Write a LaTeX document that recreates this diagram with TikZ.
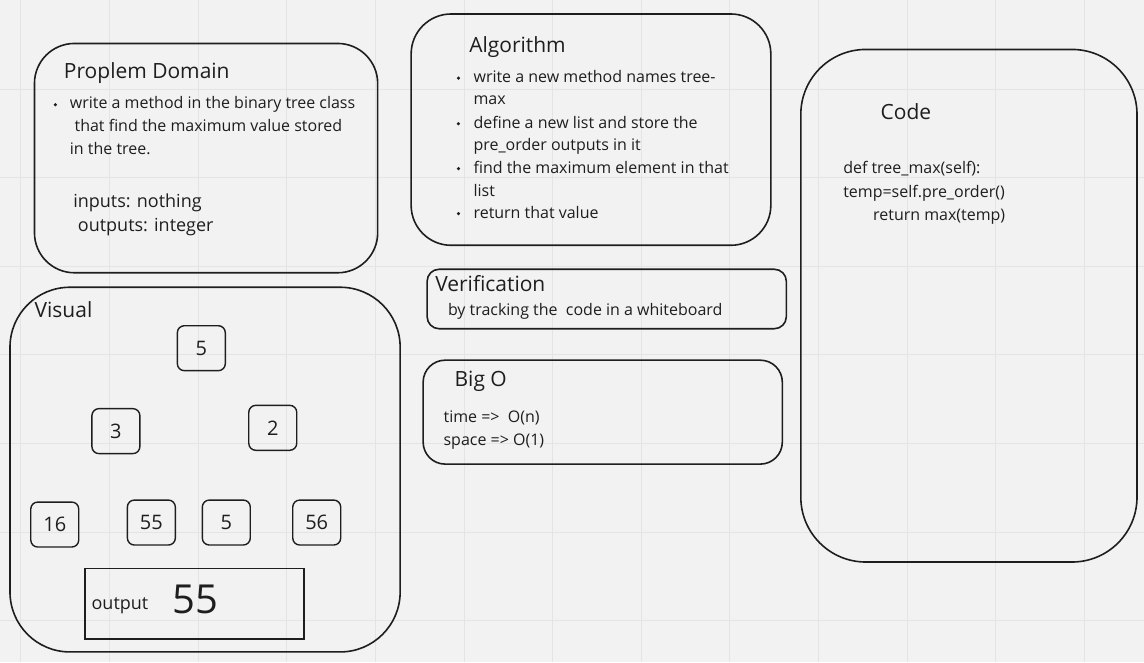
\documentclass[tikz,border=0pt]{standalone}
\usepackage{fontspec}
\setmainfont{Open Sans}
\definecolor{board}{HTML}{F2F2F2}
\definecolor{gridline}{HTML}{E4E4E4}
\definecolor{ink}{HTML}{1E1E1E}

\begin{document}
\begin{tikzpicture}[x=1pt, y=-1pt,
  panel/.style = {draw=ink, line width=1.6pt, rounded corners=#1},
  txt/.style = {anchor=base west, inner sep=0pt, text=ink, font=\fontsize{16}{19}\selectfont},
  big/.style = {anchor=base west, inner sep=0pt, text=ink, font=\fontsize{18}{22}\selectfont},
  head/.style = {anchor=base west, inner sep=0pt, text=ink, font=\fontsize{21}{25}\selectfont},
  val/.style = {draw=ink, line width=1.4pt, rounded corners=7, minimum width=48, minimum height=45, inner sep=0pt, text=ink, font=\fontsize{20}{24}\selectfont},
  dot/.style = {circle, fill=ink, minimum size=#1, inner sep=0pt, outer sep=0pt}]
% board
\fill[board] (0,0) rectangle (1144,662);
\foreach \i in {0,...,12} \draw[gridline, line width=1pt] (20.5+88.7*\i,0) -- (20.5+88.7*\i,662);
\foreach \i in {1,...,7} \draw[gridline, line width=1pt] (0,88.7*\i) -- (1144,88.7*\i);

% panels
\draw[panel=40] (34,43) rectangle (377.5,272.5);
\draw[panel=40] (411,13.5) rectangle (771,245);
\draw[panel=65] (801,49) rectangle (1137.5,562);
\draw[panel=12] (427,269) rectangle (786.5,328.5);
\draw[panel=22] (423,360) rectangle (782.5,464);
\draw[panel=60] (9.5,287) rectangle (400,652);
\draw[draw=ink, line width=1.6pt] (84.5,568.5) rectangle (304,639);

% problem domain
\node[head] (pd) at (63.3,78.3) {Proplem Domain};
\node[dot=3.5] (pd-b1) at (55,104.3) {};
\node[txt] (pd-l1) at (69.3,108.3) {write a method in the binary tree class};
\node[txt] (pd-l2) at (74,130.7) {that find the maximum value stored};
\node[txt] (pd-l3) at (69.3,154) {in the tree.};
\node[big] (pd-in) at (72.7,206.7) {inputs: nothing};
\node[big] (pd-out) at (77.3,231.7) {outputs: integer};

% algorithm
\node[head] (alg) at (469,51.7) {Algorithm};
\foreach \y [count=\i] in {77.7,123.3,168.3,213.3}
  \node[dot=3.5] (alg-b\i) at (458.3,\y) {};
\node[txt] (alg-l1) at (473.3,81.7) {write a new method names tree-};
\node[txt] (alg-l2) at (473.3,104.3) {max};
\node[txt] (alg-l3) at (473.3,128.3) {define a new list and store the};
\node[txt] (alg-l4) at (473.3,150) {pre\_order outputs in it};
\node[txt] (alg-l5) at (473.3,173.3) {find the maximum element in that};
\node[txt] (alg-l6) at (473.3,196) {list};
\node[txt] (alg-l7) at (473.3,218.3) {return that value};

% code
\node[head] (code) at (880.7,119) {Code};
\node[txt] (code-l1) at (843.3,172.7) {def tree\_max(self):};
\node[txt] (code-l2) at (843.3,196.7) {temp=self.pre\_order()};
\node[txt] (code-l3) at (873.3,220) {return max(temp)};

% verification
\node[head] (ver) at (435,291) {Verification};
\node[txt] (ver-l1) at (447.7,315.7) {by tracking the \ code in a whiteboard};

% big o
\node[head] (bigo) at (454.3,386.7) {Big O};
\node[txt] (bigo-t) at (443.3,422.3) {time => \ O(n)};
\node[txt] (bigo-s) at (443.3,445) {space => O(1)};

% visual
\node[head] (vis) at (34,317.7) {Visual};
\node[val] (n5) at (201,348) {5};
\node[val] (n3) at (115.5,431) {3};
\node[val] (n2) at (272.5,427.7) {2};
\node[val] (n16) at (54.3,524.5) {16};
\node[val] (n55) at (151,522.5) {55};
\node[val] (n5b) at (226,522.5) {5};
\node[val] (n56) at (316.5,522.5) {56};
\node[big] (outlbl) at (91,610) {output};
\node[anchor=base west, inner sep=0pt, text=ink, font=\fontsize{40}{44}\selectfont] (outval) at (171.7,613.3) {55};
\end{tikzpicture}
\end{document}
